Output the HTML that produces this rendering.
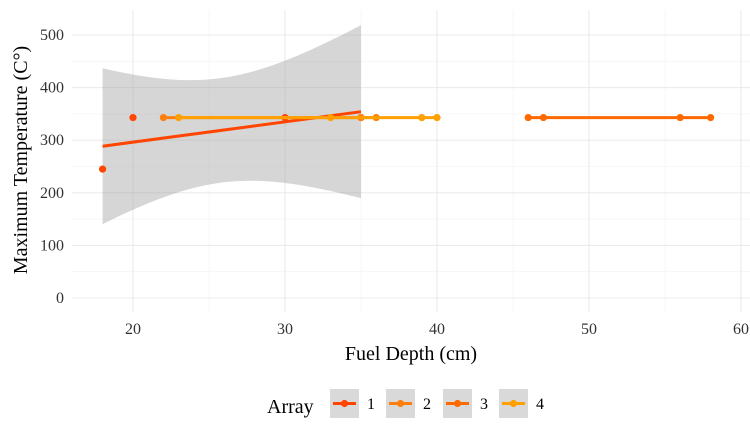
<!DOCTYPE html>
<html><head><meta charset="utf-8"><style>
body{margin:0;background:#fff;}
svg text{font-family:"Liberation Serif",serif;}
</style></head><body>
<svg id="chart" width="750" height="437">
<g id="grid"></g><g id="band"></g><g id="marks"></g><g id="axes"></g><g id="legend"></g>
</svg>
<script>
const seriesNames=["1","2","3","4"];
const colors=["#FF4500","#FF7F0E","#FF6A00","#FFA000"];
const s1x=[18,20,30,35];const s1y=[245,343,343,343];
const s2x=[22,35,36];const s2y=[343,343,343];
const s3x=[46,47,56,58];const s3y=[343,343,343,343];
const s4x=[23,33,39,40];const s4y=[343,343,343,343];
const xTicks=[20,30,40,50,60];
const yTicks=[0,100,200,300,400,500];
const NS="http://www.w3.org/2000/svg";
const X=v=>133+(v-20)*15.2;
const Y=v=>298-v*0.526;
function mk(t,a,p){const e=document.createElementNS(NS,t);for(const k in a)e.setAttribute(k,a[k]);p.appendChild(e);return e;}
const grid=document.getElementById('grid');
for(let v=25;v<=55;v+=10){const l=mk('line',{x1:X(v),x2:X(v),y1:10,y2:312,stroke:'#f2f2f2','stroke-width':0.6},grid);}
for(let v=50;v<=550;v+=100){if(Y(v)<10)continue;const l=mk('line',{x1:72,x2:750,y1:Y(v),y2:Y(v),stroke:'#f2f2f2','stroke-width':0.6},grid);}
xTicks.forEach(v=>{const l=mk('line',{x1:X(v),x2:X(v),y1:10,y2:312,stroke:'#ebebeb','stroke-width':1.1},grid);
const t=mk('text',{x:X(v),y:334,'text-anchor':'middle','font-size':16,fill:'#333'},grid);t.textContent=v;});
yTicks.forEach(v=>{const l=mk('line',{x1:72,x2:750,y1:Y(v),y2:Y(v),stroke:'#ebebeb','stroke-width':1.1},grid);
const t=mk('text',{x:64,y:Y(v)+5,'text-anchor':'end','font-size':16,fill:'#333'},grid);t.textContent=v;});
function fit(xs,ys){const n=xs.length,mx=xs.reduce((a,b)=>a+b)/n,my=ys.reduce((a,b)=>a+b)/n;let sxx=0,sxy=0;xs.forEach((x,i)=>{sxx+=(x-mx)**2;sxy+=(x-mx)*(ys[i]-my);});const b=sxx?sxy/sxx:0,a=my-b*mx;let sse=0;xs.forEach((x,i)=>sse+=(ys[i]-a-b*x)**2);return{a,b,mx,sxx,n,s:Math.sqrt(sse/Math.max(n-2,1))};}
const tq={2:4.303,1:12.706,3:3.182};
const all=[[s1x,s1y],[s2x,s2y],[s3x,s3y],[s4x,s4y]];
const band=document.getElementById('band'),marks=document.getElementById('marks');
all.forEach(([xs,ys],k)=>{const f=fit(xs,ys);const x0=Math.min(...xs),x1=Math.max(...xs);
if(f.s>1e-6){const up=[],lo=[];for(let i=0;i<=60;i++){const x=x0+(x1-x0)*i/60;const yh=f.a+f.b*x;const se=f.s*Math.sqrt(1/f.n+(x-f.mx)**2/f.sxx)*tq[f.n-2];up.push(X(x)+','+Y(yh+se));lo.unshift(X(x)+','+Y(yh-se));}
const p=mk('polygon',{points:up.concat(lo).join(' '),fill:'#999','fill-opacity':0.4},band);}
const l=mk('line',{x1:X(x0),y1:Y(f.a+f.b*x0),x2:X(x1),y2:Y(f.a+f.b*x1),stroke:colors[k],'stroke-width':3},marks);
xs.forEach((x,i)=>{const c=mk('circle',{cx:X(x),cy:Y(ys[i]),r:3.6,fill:colors[k]},marks);});});
const ax=document.getElementById('axes');
let t=mk('text',{x:411,y:360,'text-anchor':'middle','font-size':20,fill:'#000'},ax);t.textContent='Fuel Depth (cm)';
t=mk('text',{x:0,y:0,'text-anchor':'middle','font-size':20,fill:'#000',transform:'translate(27,160) rotate(-90)'},ax);t.textContent='Maximum Temperature (C°)';
const lg=document.getElementById('legend');
t=mk('text',{x:267,y:413,'font-size':20,fill:'#000'},lg);t.textContent='Array';
const lx=[330,386,443,499];
seriesNames.forEach((s,k)=>{const g=mk('g',{},lg);
mk('rect',{x:lx[k],y:389,width:29,height:29,fill:'#d9d9d9'},g);mk('line',{x1:lx[k]+3,x2:lx[k]+26,y1:403.5,y2:403.5,stroke:colors[k],'stroke-width':3},g);mk('circle',{cx:lx[k]+14.5,cy:403.5,r:3.6,fill:colors[k]},g);
const tt=mk('text',{x:lx[k]+37,y:409,'font-size':16,fill:'#000'},g);tt.textContent=s;});
</script>
</body></html>
